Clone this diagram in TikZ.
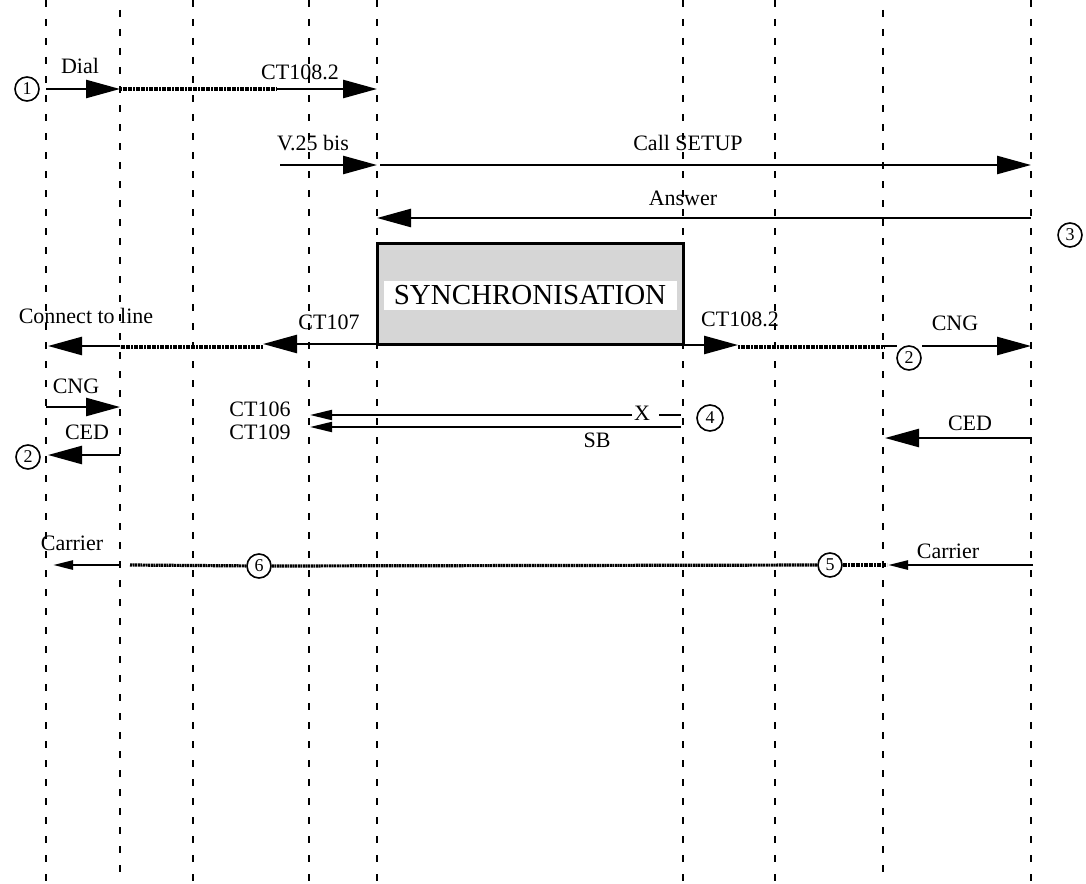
\documentclass[tikz,border=0pt]{standalone}
\usepackage{fontspec}
\setmainfont{Liberation Serif}
\usetikzlibrary{arrows.meta}
\begin{document}
\begin{tikzpicture}[x=1pt,y=-1pt,
  life/.style={line width=2.6pt, dash pattern=on 7pt off 12pt},
  msg/.style={line width=2.5pt},
  thin/.style={line width=2pt},
  big/.style={-{Triangle[length=34pt,width=18pt]}},
  med/.style={-{Triangle[length=22pt,width=10pt]}},
  sml/.style={-{Triangle[length=20pt,width=9pt]}},
  dots/.style={line width=3.2pt, dash pattern=on 2pt off 0.6pt},
  lbl/.style={font=\fontsize{22}{25}\selectfont, inner sep=0pt},
  num/.style={circle, draw, line width=1.6pt, minimum size=24pt, inner sep=0pt, font=\fontsize{18}{18}\selectfont},
]
\useasboundingbox (0,0) rectangle (1086,883);
% lifelines
\foreach \x/\n/\p in {46/A/0,120/B/9,193/C/0,309/D/0,377/E/0,683/F/0,775/G/0,883/H/9,1031/I/0}{
  \coordinate (\n top) at (\x,0);
  \coordinate (\n bot) at (\x,883);
  \draw[life, dash phase=\p pt] (\n top) -- (\n bot);
}
% synchronisation box
\node[draw, line width=3pt, fill=black!16, minimum width=306pt, minimum height=101pt, inner sep=0pt] (sync) at (530,293.5) {};
\node[fill=white, minimum width=293pt, minimum height=29pt, inner sep=0pt, font=\fontsize{29}{31}\selectfont] (synct) at (530,295) {SYNCHRONISATION};

% row 1
\node[num] (c1) at (27,89) {1};
\coordinate (r1a) at (46,89);
\coordinate (r1b) at (120,89);
\coordinate (r1c) at (277,89);
\coordinate (r1d) at (377,89);
\draw[msg,big] (r1a) -- (r1b);
\draw[dots] (r1b) -- (r1c);
\draw[msg,big] (r1c) -- (r1d);
\node[lbl] (tdial) at (80,66) {Dial};
\node[lbl] (tct1) at (300,72) {CT108.2};

% row 2
\coordinate (r2a) at (280,165);
\coordinate (r2b) at (377,165);
\coordinate (r2c) at (380,165);
\coordinate (r2d) at (1031,165);
\draw[msg,big] (r2a) -- (r2b);
\draw[msg,big] (r2c) -- (r2d);
\node[lbl] (tv25) at (313,143) {V.25 bis};
\node[lbl] (tcall) at (688,143) {Call SETUP};

% row 3
\coordinate (r3a) at (1031,218);
\coordinate (r3b) at (377,218);
\draw[msg,big] (r3a) -- (r3b);
\node[lbl] (tans) at (683,198) {Answer};
\node[num] (c3) at (1070,235) {3};

% row 4 left
\coordinate (r4a) at (453,344);
\coordinate (r4b) at (263,344);
\coordinate (r4c) at (263,347);
\coordinate (r4d) at (120,347);
\coordinate (r4e) at (120,346);
\coordinate (r4f) at (48,346);
\draw[msg,big] (r4a) -- (r4b);
\draw[dots] (r4c) -- (r4d);
\draw[msg,big] (r4e) -- (r4f);
\node[lbl] (tconn) at (86,316) {Connect to line};
\node[lbl] (tct107) at (329,322) {CT107};

% row 4 right
\coordinate (r4g) at (684,345);
\coordinate (r4h) at (738,345);
\coordinate (r4i) at (738,347);
\coordinate (r4j) at (885,347);
\coordinate (r4k) at (883,346);
\coordinate (r4l) at (897,346);
\coordinate (r4m) at (922,346);
\coordinate (r4n) at (1031,346);
\draw[msg,big] (r4g) -- (r4h);
\draw[dots] (r4i) -- (r4j);
\draw[msg] (r4k) -- (r4l);
\draw[msg,big] (r4m) -- (r4n);
\node[num] (c2r) at (909,358) {2};
\node[lbl] (tct108b) at (740,319) {CT108.2};
\node[lbl] (tcngr) at (955,323) {CNG};

% row 5 left
\coordinate (r5a) at (46,407);
\coordinate (r5b) at (120,407);
\coordinate (r5c) at (120,455);
\coordinate (r5d) at (48,455);
\draw[msg,big] (r5a) -- (r5b);
\draw[msg,big] (r5c) -- (r5d);
\node[lbl] (tcngl) at (76,386) {CNG};
\node[lbl] (tcedl) at (87,432) {CED};
\node[num] (c2l) at (28,457) {2};

% CT106 / CT109
\coordinate (r6a) at (632,415);
\coordinate (r6b) at (310,415);
\coordinate (r6c) at (659,415);
\coordinate (r6d) at (681,415);
\coordinate (r6e) at (681,427);
\coordinate (r6f) at (310,427);
\draw[thin,med] (r6a) -- (r6b);
\draw[thin] (r6c) -- (r6d);
\draw[thin,med] (r6e) -- (r6f);
\node[lbl] (tx) at (642,413) {X};
\node[lbl] (tsb) at (597,440) {SB};
\node[lbl] (tct106) at (260,409) {CT106};
\node[lbl] (tct109) at (260,432) {CT109};
\node[num, minimum size=26pt] (c4) at (710,418) {4};

% CED right
\coordinate (r7a) at (1031,438);
\coordinate (r7b) at (885,438);
\draw[msg,big] (r7a) -- (r7b);
\node[lbl] (tcedr) at (970,423) {CED};

% carrier row
\coordinate (r8a) at (120,565);
\coordinate (r8b) at (53,565);
\coordinate (r8c) at (130,565);
\coordinate (r8d) at (887,565);
\coordinate (r8e) at (1033,565);
\coordinate (r8f) at (888,565);
\node[num] (c6) at (259,566) {6};
\node[num] (c5) at (830,565) {5};
\draw[msg,sml] (r8a) -- (r8b);
\draw[dots] (r8c) -- (c6);
\draw[dots] (c6) -- (c5);
\draw[dots] (c5) -- (r8d);
\draw[msg,sml] (r8e) -- (r8f);
\node[lbl] (tcarl) at (72,543) {Carrier};
\node[lbl] (tcarr) at (948,551) {Carrier};
\end{tikzpicture}
\end{document}
